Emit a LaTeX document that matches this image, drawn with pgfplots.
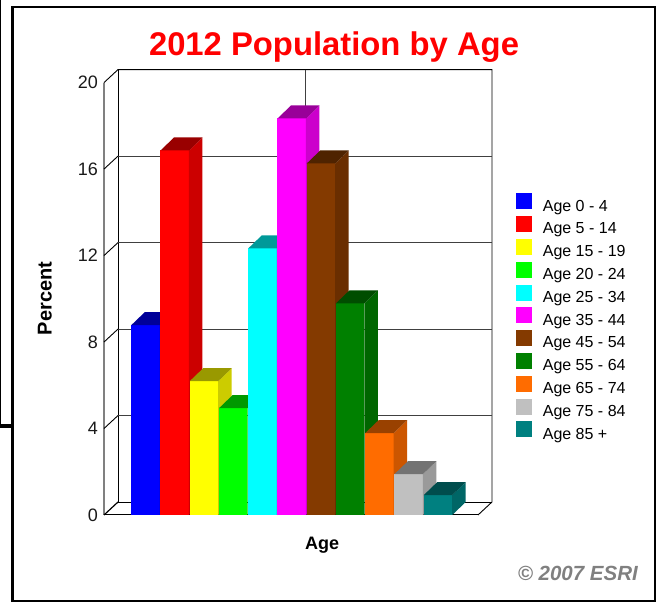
\documentclass[border=0pt]{standalone}
\usepackage{fontspec}
\setmainfont{Liberation Sans}
\usepackage{pgfplots}
\pgfplotsset{compat=1.18}

\definecolor{ageA}{HTML}{0000FF}
\definecolor{ageB}{HTML}{FF0000}
\definecolor{ageC}{HTML}{FFFF00}
\definecolor{ageD}{HTML}{00FF00}
\definecolor{ageE}{HTML}{00FFFF}
\definecolor{ageF}{HTML}{FF00FF}
\definecolor{ageG}{HTML}{843A00}
\definecolor{ageH}{HTML}{008000}
\definecolor{ageI}{HTML}{FF6C00}
\definecolor{ageJ}{HTML}{C0C0C0}
\definecolor{ageK}{HTML}{008080}

% one bar: index, percent, colour, legend text
\newcommand{\agebar}[4]{%
  \pgfmathsetmacro{\xl}{#1-0.487}
  \pgfmathsetmacro{\xr}{#1+0.487}
  \pgfmathsetmacro{\xlb}{#1-0.487+0.4615}
  \pgfmathsetmacro{\xrb}{#1+0.487+0.4615}
  \pgfmathsetmacro{\yb}{#2+0.601}
  \addplot[ybar,bar shift=0pt,bar width=28.5pt,fill=#3,draw=none,
    legend image code/.code={\fill[#3] (0pt,-3pt) rectangle (16pt,13pt);}] coordinates {(#1,#2)};
  \addlegendentry{#4}
  \addplot[forget plot,mark=none,draw=none,fill=#3!80!black] coordinates {(\xr,0)(\xr,#2)(\xrb,\yb)(\xrb,0.601)} -- cycle;
  \addplot[forget plot,mark=none,draw=none,fill=#3!60!black] coordinates {(\xl,#2)(\xr,#2)(\xrb,\yb)(\xlb,\yb)} -- cycle;
}

\begin{document}
\begin{tikzpicture}[x=1pt,y=1pt]
\useasboundingbox (0,0) rectangle (656,602);
% page frame
\fill[black] (11,0) rectangle (14,596);
\fill[black] (11,594) rectangle (656,596);
\fill[black] (654,0) rectangle (656,596);
\fill[black] (11,0) rectangle (656,2);
\fill[black] (0,176) rectangle (1,602);
\fill[black] (0,174) rectangle (12,178);
\begin{axis}[
    at={(104pt,87pt)},anchor=south west,
    scale only axis,width=374pt,height=432.4pt,
    xmin=-1.4188,xmax=11.368,
    ymin=0,ymax=20,
    clip=false,
    axis lines=left,
    axis line style={-},
    x axis line style={black,line width=1pt},
    y axis line style={gray,line width=1.5pt},
    xtick=\empty,
    ytick={0,4,8,12,16,20},
    major tick length=0pt,
    /pgf/number format/assume math mode=true,
    tick label style={font=\fontsize{18}{18}\selectfont,text=black!90},
    yticklabel style={inner xsep=0pt,xshift=-6pt},
    ylabel={Percent},
    xlabel={Age},
    title={2012 Population by Age},
    every axis y label/.style={at={(axis description cs:-0.158,0.501)},rotate=90,anchor=center,font=\fontsize{20}{20}\selectfont\bfseries},
    every axis x label/.style={at={(axis description cs:0.583,-0.071)},anchor=center,font=\fontsize{18}{18}\selectfont\bfseries},
    every axis title/.style={at={(axis description cs:0.615,1.081)},anchor=center,text=red,font=\fontsize{32.8}{32.8}\selectfont\bfseries},
    legend style={
      at={(axis description cs:1.102,0.744)},anchor=north west,
      draw=none,fill=none,inner sep=0pt,outer sep=0pt,
      font=\fontsize{16}{16}\selectfont,
      row sep=3.5pt,
      nodes={inner sep=0pt},
      /tikz/every odd column/.append style={column sep=10.7pt},
    },
    legend cell align=left,
  ]

  % back wall and floor
  \addplot[forget plot,mark=none,black,line width=0.9pt] coordinates {(-1.4188,20)(-0.940,20.601)(11.846,20.601)(11.846,0.601)(11.368,0)};
  \addplot[forget plot,mark=none,black,line width=0.9pt] coordinates {(-0.940,20.601)(-0.940,0.601)(11.846,0.601)};
  \addplot[forget plot,mark=none,black!75,line width=0.9pt] coordinates {(-0.940,16.601)(11.846,16.601)};
  \addplot[forget plot,mark=none,black!75,line width=0.9pt] coordinates {(-0.940,12.601)(11.846,12.601)};
  \addplot[forget plot,mark=none,black!75,line width=0.9pt] coordinates {(-0.940,8.601)(11.846,8.601)};
  \addplot[forget plot,mark=none,black!75,line width=0.9pt] coordinates {(-0.940,4.601)(11.846,4.601)};
  \addplot[forget plot,mark=none,black!75,line width=0.9pt] coordinates {(5.453,20.601)(5.453,0.601)};
  \addplot[forget plot,mark=none,black,line width=0.9pt] coordinates {(-1.4188,16)(-0.940,16.601)};
  \addplot[forget plot,mark=none,black,line width=0.9pt] coordinates {(-1.4188,12)(-0.940,12.601)};
  \addplot[forget plot,mark=none,black,line width=0.9pt] coordinates {(-1.4188,8)(-0.940,8.601)};
  \addplot[forget plot,mark=none,black,line width=0.9pt] coordinates {(-1.4188,4)(-0.940,4.601)};
  \addplot[forget plot,mark=none,black,line width=1.2pt] coordinates {(-1.4188,0)(-0.940,0.601)};

  \agebar{0}{8.78}{ageA}{Age 0 - 4}
  \agebar{1}{16.86}{ageB}{Age 5 - 14}
  \agebar{2}{6.19}{ageC}{Age 15 - 19}
  \agebar{3}{4.94}{ageD}{Age 20 - 24}
  \agebar{4}{12.33}{ageE}{Age 25 - 34}
  \agebar{5}{18.34}{ageF}{Age 35 - 44}
  \agebar{6}{16.26}{ageG}{Age 45 - 54}
  \agebar{7}{9.79}{ageH}{Age 55 - 64}
  \agebar{8}{3.79}{ageI}{Age 65 - 74}
  \agebar{9}{1.89}{ageJ}{Age 75 - 84}
  \agebar{10}{0.92}{ageK}{Age 85 +}
\end{axis}
\node[anchor=east,inner sep=0pt,text=black!50,font=\fontsize{20.5}{20.5}\selectfont\bfseries\itshape] at (638,29) {© 2007 ESRI};
\end{tikzpicture}
\end{document}
